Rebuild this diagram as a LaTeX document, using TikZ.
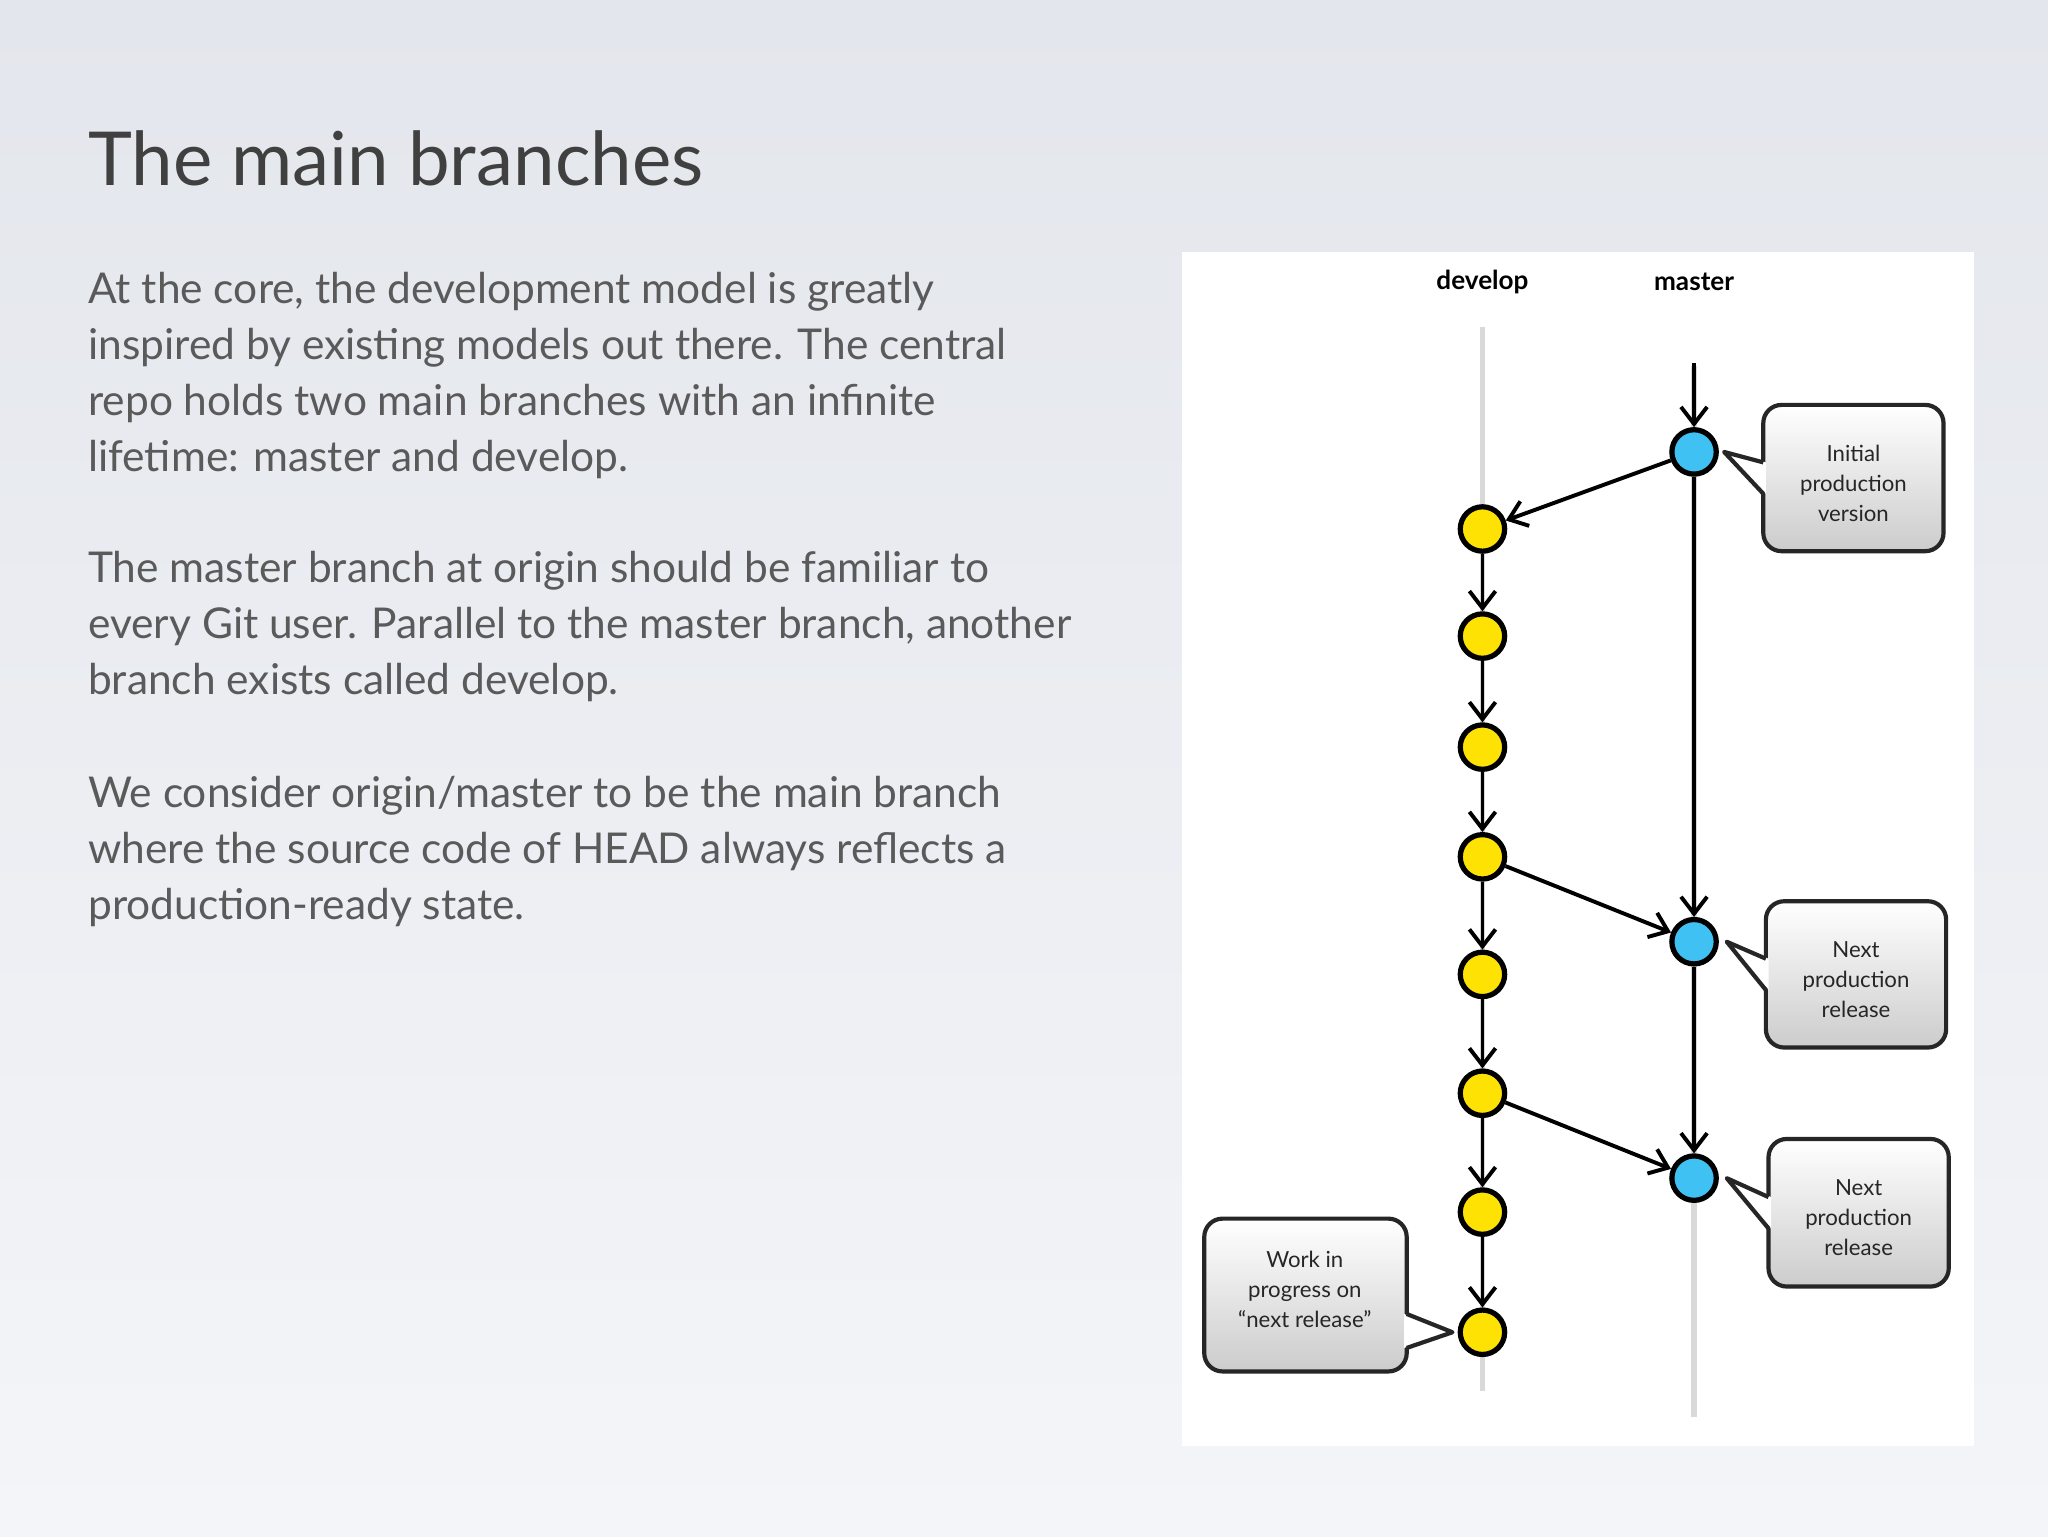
\documentclass[tikz,border=0pt]{standalone}
\usepackage{fontspec}
\setmainfont{Lato}
\usetikzlibrary{arrows.meta}
\begin{document}
\begin{tikzpicture}[x=1pt,y=-1pt,
 body/.style={anchor=base west,font=\fontsize{32.5}{32}\selectfont,text=txt},
 yel/.style={circle,draw=black,line width=4pt,fill=yellow!85!orange,minimum size=34pt,inner sep=0},
 cya/.style={circle,draw=black,line width=4pt,fill=cyan!75!white,minimum size=34pt,inner sep=0},
 ar/.style={line width=3pt,-{Straight Barb[length=13pt,width=20pt,line width=3pt]}},
 box/.style={rounded corners=14pt,line width=3.2pt,draw=black!85,top color=white,bottom color=gray!40},
 blab/.style={align=center,font=\fontsize{17}{23}\selectfont,text=black!85}]
\definecolor{txt}{HTML}{5A5A5A}
\definecolor{bgt}{HTML}{E3E6EC}
\definecolor{bgb}{HTML}{F4F5F8}
\useasboundingbox (0,0) rectangle (1568,1176);
\shade[top color=bgt,bottom color=bgb] (0,0) rectangle (1568,1176);
\node[anchor=base west,font=\fontsize{57}{57}\selectfont,text=black!75] (title) at (64,142) {The main branches};
\foreach \t/\y [count=\i] in {{At the core, the development model is greatly}/232,{inspired by existing models out there. The central}/275,{repo holds two main branches with an infinite}/318,{lifetime: master and develop.}/361,{The master branch at origin should be familiar to}/446,{every Git user. Parallel to the master branch, another}/489,{branch exists called develop.}/532,{We consider origin/master to be the main branch}/618,{where the source code of HEAD always reflects a}/661,{production-ready state.}/704}
  \node[body] (l\i) at (64,\y) {\t};
\fill[white] (905,193) rectangle (1511,1107);
\node[font=\bfseries\fontsize{20}{20}\selectfont] (dl) at (1135,216) {develop};
\node[font=\bfseries\fontsize{20}{20}\selectfont] (ml) at (1297,216) {master};
\draw[black!15,line width=4pt] (1135,250) -- (1135,1065);
\draw[black!15,line width=4pt] (1297,280) -- (1297,1085);
\foreach \y [count=\i] in {405,487,572,656,746,837,928,1020} \node[yel] (y\i) at (1135,\y) {};
\node[cya] (c1) at (1297,346) {};
\node[cya] (c2) at (1297,721) {};
\node[cya] (c3) at (1297,902) {};
\coordinate (mtop) at (1297,278);
\draw[ar] (mtop) -- (c1);
\draw[ar] (c1) -- (c2);
\draw[ar] (c2) -- (c3);
\draw[ar] (c1) -- (y1);
\draw[ar] (y4) -- (c2);
\draw[ar] (y6) -- (c3);
\foreach \a/\b in {1/2,2/3,3/4,4/5,5/6,6/7,7/8} \draw[ar] (y\a) -- (y\b);
\newcommand\callout[6]{%
 \draw[box] (#1,#2) rectangle (#3,#4);
 \fill[white] (#5) -- ({#1+2},{(#2+#4)/2-12}) -- ({#1+2},{(#2+#4)/2+12}) -- cycle;
 \draw[line width=3.2pt,black!85,line join=round] ({#1},{(#2+#4)/2-12}) -- (#5) -- ({#1},{(#2+#4)/2+12});
 \node[blab] (#6) at ({(#1+#3)/2},{(#2+#4)/2}) {};}
\coordinate (p1) at (1320,346);
\coordinate (p2) at (1322,721);
\coordinate (p3) at (1322,902);
\callout{1350}{310}{1488}{422}{p1}{b1}
\callout{1352}{690}{1490}{802}{p2}{b2}
\callout{1354}{872}{1492}{985}{p3}{b3}
\node[blab] at ([yshift=-4pt]b1) {Initial\\production\\version};
\node[blab] at ([yshift=-4pt]b2) {Next\\production\\release};
\node[blab] at ([yshift=-4pt]b3) {Next\\production\\release};
\coordinate (p4) at (1112,1020);
\draw[box] (922,933) rectangle (1077,1050);
\fill[white] (p4) -- (1075,1006) -- (1075,1032) -- cycle;
\draw[line width=3.2pt,black!85,line join=round] (1077,1006) -- (p4) -- (1077,1032);
\node[blab] (b4) at (999,987) {Work in\\progress on\\“next release”};
\end{tikzpicture}
\end{document}
